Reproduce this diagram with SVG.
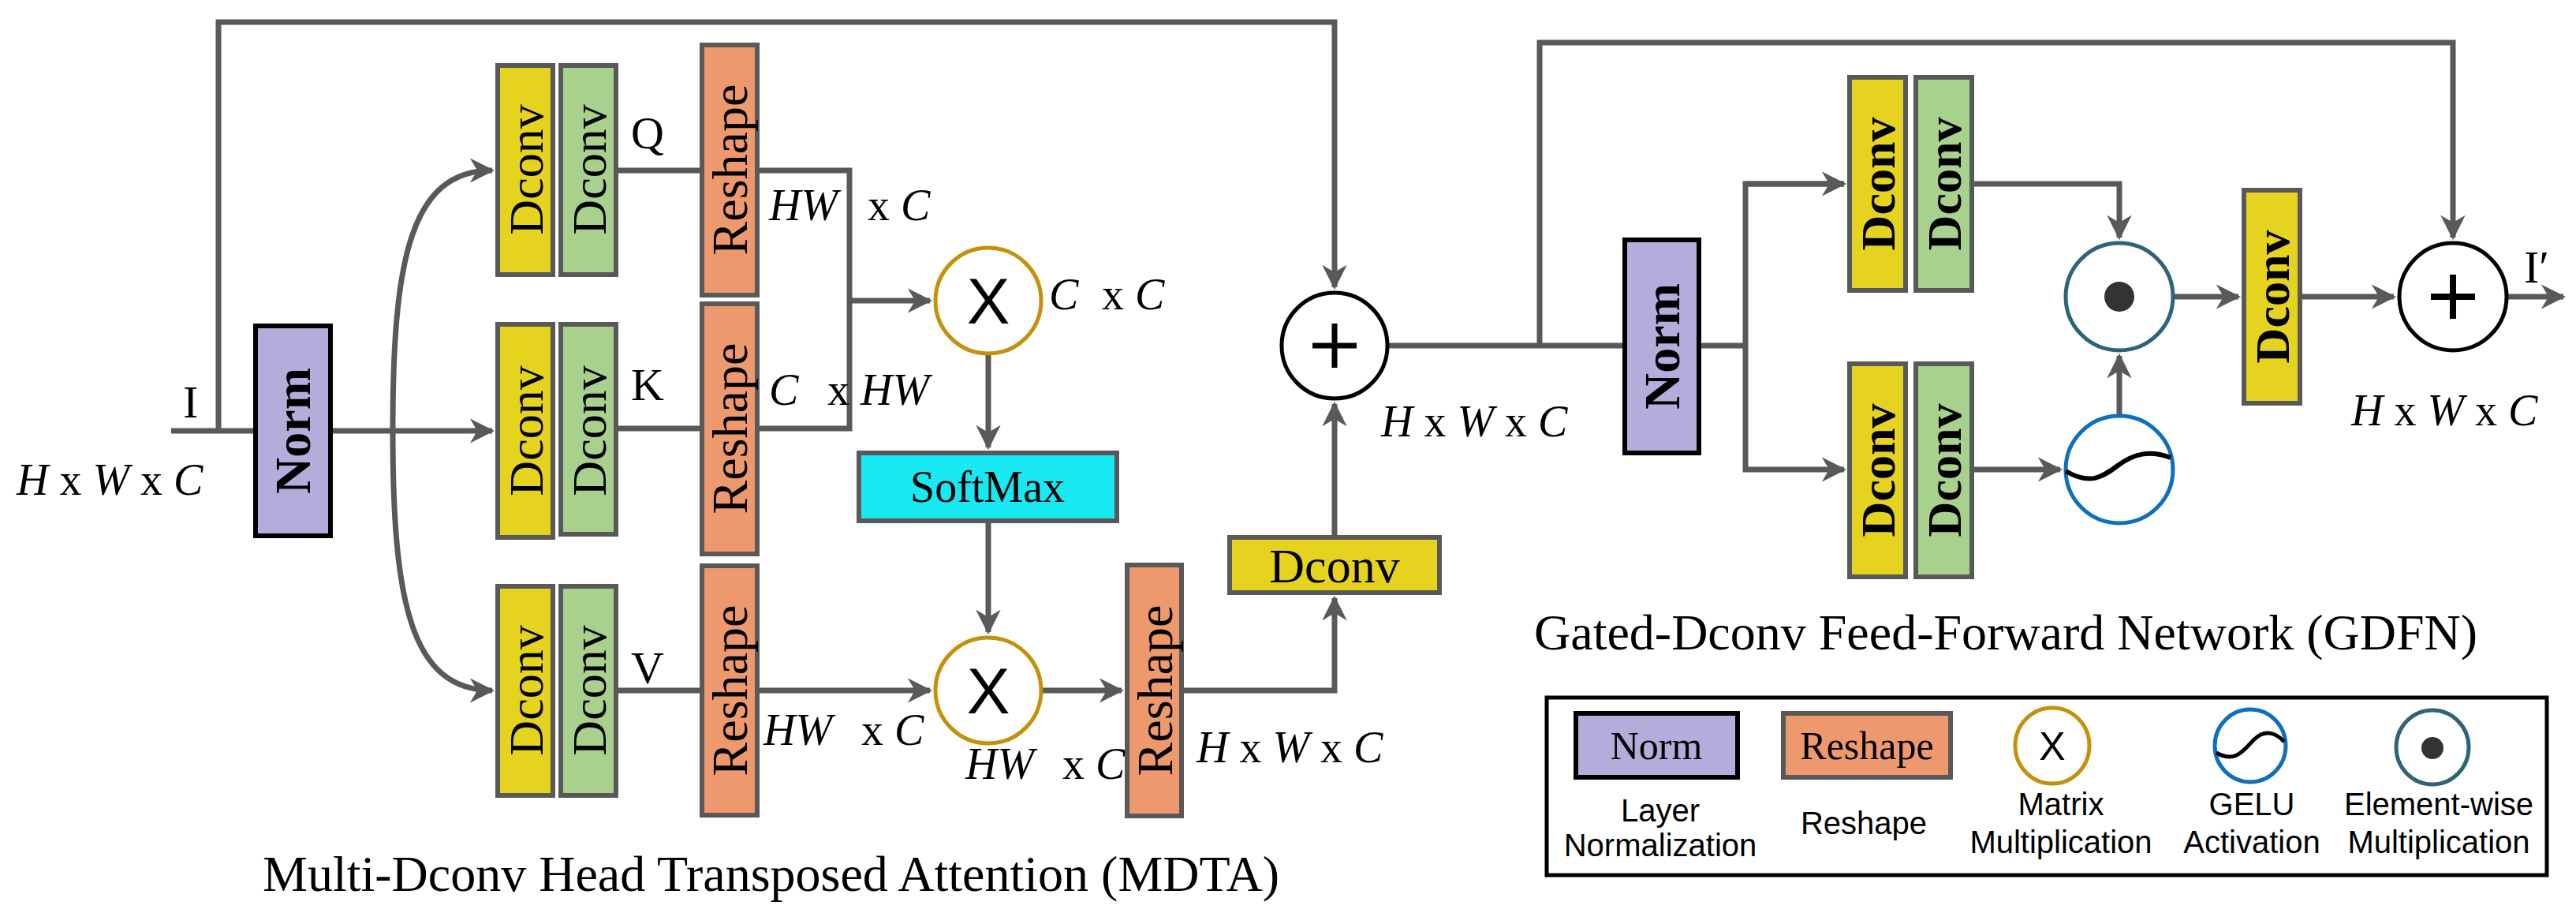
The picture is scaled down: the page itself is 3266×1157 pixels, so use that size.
<svg xmlns="http://www.w3.org/2000/svg" width="3266" height="1157" viewBox="0 0 3266 1157">
<style>
.ln{fill:none;stroke:#595959;stroke-width:7}
.bx{stroke:#595959;stroke-width:6}
.y{fill:#E5D31F}.g{fill:#A9D18E}.o{fill:#EE986D}.p{fill:#B3ADDB}
.t{font-family:"Liberation Serif",serif;fill:#000}
.it{font-family:"Liberation Serif",serif;font-style:italic;fill:#000;font-size:56px}
.s{font-family:"Liberation Sans Narrow","Liberation Sans",sans-serif;fill:#000;font-size:40px;text-anchor:middle}
</style>
<defs>
<marker id="a" viewBox="0 0 10 10" refX="9" refY="5" markerWidth="4.5" markerHeight="4.5" orient="auto" markerUnits="strokeWidth"><path d="M0,0L10,5L0,10L3,5Z" fill="#595959"/></marker>
</defs>
<rect width="3266" height="1157" fill="#fff"/>
<g id="connectors">
<path class="ln" d="M217,546H324M419,546H624" marker-end="url(#a)"/>
<path class="ln" d="M277,546V28H1692V364" marker-end="url(#a)"/>
<path class="ln" d="M498,546C498,330 520,216 624,216" marker-end="url(#a)"/>
<path class="ln" d="M498,546C498,760 520,875 624,875" marker-end="url(#a)"/>
<path class="ln" d="M781,216H890M960,216H1077V543H960M781,543H890"/>
<path class="ln" d="M1077,381H1179" marker-end="url(#a)"/>
<path class="ln" d="M1253,448V567" marker-end="url(#a)"/>
<path class="ln" d="M1253,660V801" marker-end="url(#a)"/>
<path class="ln" d="M781,875H890M960,875H1179" marker-end="url(#a)"/>
<path class="ln" d="M1320,875H1422" marker-end="url(#a)"/>
<path class="ln" d="M1498,875H1692V758" marker-end="url(#a)"/>
<path class="ln" d="M1692,681V512" marker-end="url(#a)"/>
<path class="ln" d="M1759,438H2060M2154,438H2213V233H2338M2213,438V595H2338" marker-end="url(#a)"/>
<path class="ln" d="M2213,233H2338" marker-end="url(#a)"/>
<path class="ln" d="M1952,438V54H3110V301" marker-end="url(#a)"/>
<path class="ln" d="M2500,233H2687V301" marker-end="url(#a)"/>
<path class="ln" d="M2500,595H2612" marker-end="url(#a)"/>
<path class="ln" d="M2687,527V451" marker-end="url(#a)"/>
<path class="ln" d="M2755,376H2838" marker-end="url(#a)"/>
<path class="ln" d="M2916,376H3035" marker-end="url(#a)"/>
<path class="ln" d="M3178,376H3250" marker-end="url(#a)"/>
</g>
<g id="labels">
<text class="t" x="232" y="529" font-size="58">I</text>
<text class="it" x="21" y="627">H <tspan font-style="normal">x</tspan> W <tspan font-style="normal">x</tspan> C</text>
<text class="t" x="800" y="188" font-size="58">Q</text>
<text class="t" x="800" y="507" font-size="58">K</text>
<text class="t" x="800" y="866" font-size="58">V</text>
<text class="it" x="975" y="279">HW <tspan x="1100" font-style="normal">x</tspan> C</text>
<text class="it" x="975" y="513">C <tspan x="1049" font-style="normal">x</tspan> HW</text>
<text class="it" x="1330" y="392">C <tspan x="1397" font-style="normal">x</tspan> C</text>
<text class="it" x="968" y="944">HW <tspan x="1092" font-style="normal">x</tspan> C</text>
<text class="it" x="1224" y="987">HW <tspan x="1347" font-style="normal">x</tspan> C</text>
<text class="it" x="1517" y="966">H <tspan font-style="normal">x</tspan> W <tspan font-style="normal">x</tspan> C</text>
<text class="it" x="1751" y="553">H <tspan font-style="normal">x</tspan> W <tspan font-style="normal">x</tspan> C</text>
<text class="it" x="2981" y="539">H <tspan font-style="normal">x</tspan> W <tspan font-style="normal">x</tspan> C</text>
<text class="t" x="3200" y="358" font-size="58">I′</text>
<text class="t" x="333" y="1129" font-size="64">Multi-Dconv Head Transposed Attention (MDTA)</text>
<text class="t" x="1945" y="823" font-size="64">Gated-Dconv Feed-Forward Network (GDFN)</text>
</g>
<g id="norm1"><rect class="p" x="324" y="413" width="95" height="266" stroke="#000" stroke-width="6"/><text class="t" font-size="64" font-weight="bold" text-anchor="middle" transform="translate(393,546) rotate(-90)">Norm</text></g>
<g id="dconvQ1"><rect class="y bx" x="631" y="83" width="70" height="265"/><text class="t" font-size="62" text-anchor="middle" transform="translate(688,215) rotate(-90)">Dconv</text></g>
<g id="dconvQ2"><rect class="g bx" x="711" y="83" width="70" height="265"/><text class="t" font-size="62" text-anchor="middle" transform="translate(768,215) rotate(-90)">Dconv</text></g>
<g id="dconvK1"><rect class="y bx" x="631" y="411" width="70" height="270"/><text class="t" font-size="62" text-anchor="middle" transform="translate(688,546) rotate(-90)">Dconv</text></g>
<g id="dconvK2"><rect class="g bx" x="711" y="411" width="70" height="266"/><text class="t" font-size="62" text-anchor="middle" transform="translate(768,546) rotate(-90)">Dconv</text></g>
<g id="dconvV1"><rect class="y bx" x="631" y="743" width="70" height="265"/><text class="t" font-size="62" text-anchor="middle" transform="translate(688,875) rotate(-90)">Dconv</text></g>
<g id="dconvV2"><rect class="g bx" x="711" y="743" width="70" height="265"/><text class="t" font-size="62" text-anchor="middle" transform="translate(768,875) rotate(-90)">Dconv</text></g>
<g id="reshapeQ"><rect class="o bx" x="890" y="57" width="70" height="317"/><text class="t" font-size="64" text-anchor="middle" transform="translate(947,215) rotate(-90)">Reshape</text></g>
<g id="reshapeK"><rect class="o bx" x="890" y="385" width="70" height="317"/><text class="t" font-size="64" text-anchor="middle" transform="translate(947,543) rotate(-90)">Reshape</text></g>
<g id="reshapeV"><rect class="o bx" x="890" y="717" width="70" height="316"/><text class="t" font-size="64" text-anchor="middle" transform="translate(947,875) rotate(-90)">Reshape</text></g>
<g id="matmul1"><circle cx="1253" cy="381" r="67" fill="#fff" stroke="#C4920A" stroke-width="5"/><text font-family="Liberation Sans,sans-serif" font-size="82" x="1253" y="410" text-anchor="middle">X</text></g>
<g id="softmax"><rect x="1089" y="574" width="327" height="86" fill="#17E8F2" class="bx"/><text class="t" font-size="56" x="1252" y="636" text-anchor="middle">SoftMax</text></g>
<g id="matmul2"><circle cx="1253" cy="875" r="67" fill="#fff" stroke="#C4920A" stroke-width="5"/><text font-family="Liberation Sans,sans-serif" font-size="82" x="1253" y="904" text-anchor="middle">X</text></g>
<g id="reshape3"><rect class="o bx" x="1429" y="716" width="69" height="318"/><text class="t" font-size="64" text-anchor="middle" transform="translate(1486,875) rotate(-90)">Reshape</text></g>
<g id="dconvOut"><rect class="y bx" x="1559" y="681" width="266" height="70"/><text class="t" font-size="62" x="1692" y="738" text-anchor="middle">Dconv</text></g>
<g id="add1"><circle cx="1692" cy="438" r="67" fill="#fff" stroke="#000" stroke-width="5"/><path d="M1664,438H1720M1692,410V466" stroke="#000" stroke-width="7"/></g>
<g id="norm2"><rect class="p" x="2060" y="304" width="94" height="270" stroke="#000" stroke-width="6"/><text class="t" font-size="64" font-weight="bold" text-anchor="middle" transform="translate(2129,439) rotate(-90)">Norm</text></g>
<g id="dconvT1"><rect class="y bx" x="2345" y="98" width="71" height="270"/><text class="t" font-size="62" font-weight="bold" text-anchor="middle" transform="translate(2402,233) rotate(-90)">Dconv</text></g>
<g id="dconvT2"><rect class="g bx" x="2429" y="98" width="71" height="270"/><text class="t" font-size="62" font-weight="bold" text-anchor="middle" transform="translate(2486,233) rotate(-90)">Dconv</text></g>
<g id="dconvB1"><rect class="y bx" x="2345" y="461" width="71" height="270"/><text class="t" font-size="62" font-weight="bold" text-anchor="middle" transform="translate(2402,596) rotate(-90)">Dconv</text></g>
<g id="dconvB2"><rect class="g bx" x="2429" y="461" width="71" height="270"/><text class="t" font-size="62" font-weight="bold" text-anchor="middle" transform="translate(2486,596) rotate(-90)">Dconv</text></g>
<g id="emul"><circle cx="2687" cy="376" r="68" fill="#fff" stroke="#2E6478" stroke-width="5"/><circle cx="2687" cy="376" r="19" fill="#333"/></g>
<g id="gelu"><circle cx="2687" cy="595" r="68" fill="#fff" stroke="#0F6FBF" stroke-width="5"/><path d="M2619,597C2650,615 2665,605 2685,590S2725,570 2752,580" fill="none" stroke="#000" stroke-width="6"/></g>
<g id="dconv3"><rect class="y bx" x="2845" y="241" width="71" height="270"/><text class="t" font-size="62" font-weight="bold" text-anchor="middle" transform="translate(2902,376) rotate(-90)">Dconv</text></g>
<g id="add2"><circle cx="3110" cy="376" r="68" fill="#fff" stroke="#000" stroke-width="5"/><path d="M3082,376H3138M3110,348V404" stroke="#000" stroke-width="8"/></g>
<g id="legend">
<rect x="1961" y="884" width="1268" height="225" fill="none" stroke="#000" stroke-width="5"/>
<rect class="p" x="1998" y="904" width="205" height="81" stroke="#000" stroke-width="6"/>
<text class="t" font-size="50" x="2100" y="962" text-anchor="middle">Norm</text>
<rect class="o bx" x="2261" y="904" width="212" height="81"/>
<text class="t" font-size="50" x="2367" y="962" text-anchor="middle">Reshape</text>
<ellipse cx="2602" cy="945" rx="47" ry="48" fill="#fff" stroke="#C4920A" stroke-width="5"/>
<text font-family="Liberation Sans,sans-serif" font-size="50" x="2602" y="963" text-anchor="middle">X</text>
<ellipse cx="2853" cy="945" rx="45" ry="46" fill="#fff" stroke="#0F6FBF" stroke-width="5"/>
<path d="M2810,954C2835,968 2845,950 2858,937S2885,928 2896,940" fill="none" stroke="#000" stroke-width="5"/>
<ellipse cx="3084" cy="947" rx="46" ry="47" fill="#fff" stroke="#2E6478" stroke-width="5"/>
<circle cx="3084" cy="948" r="14" fill="#333"/>
<text class="s" x="2105" y="1041">Layer</text><text class="s" x="2105" y="1085">Normalization</text>
<text class="s" x="2363" y="1057">Reshape</text>
<text class="s" x="2613" y="1033">Matrix</text><text class="s" x="2613" y="1081">Multiplication</text>
<text class="s" x="2855" y="1033">GELU</text><text class="s" x="2855" y="1081">Activation</text>
<text class="s" x="3092" y="1033">Element-wise</text><text class="s" x="3092" y="1081">Multiplication</text>
</g>
</svg>
